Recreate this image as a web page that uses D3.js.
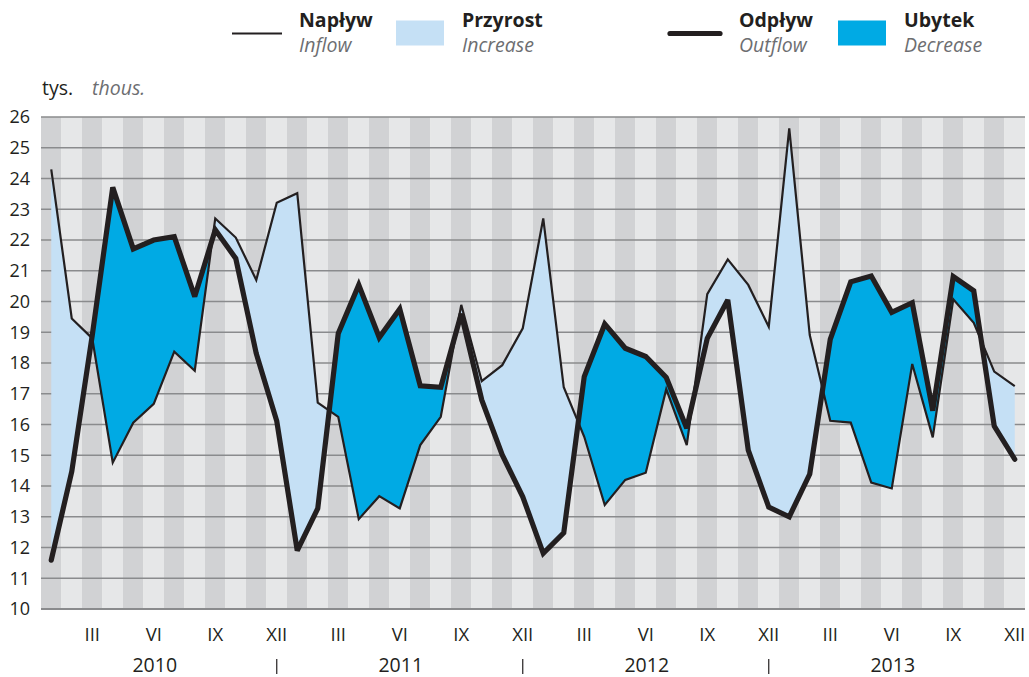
<!DOCTYPE html>
<html>
<head>
<meta charset="utf-8">
<script src="https://cdn.jsdelivr.net/npm/d3@7"></script>
<style>
  body { margin: 0; background: #fff; }
  svg text { font-family: "Open Sans", Lato, sans-serif; fill: #231f20; }
</style>
</head>
<body>
<div id="chart"></div>
<script>
// monthly data 2010-2013, thousands
var inflow = [24.30, 19.45, 18.8, 14.76, 16.06, 16.67, 18.37, 17.75, 22.70, 22.08, 20.70, 23.21,
  23.52, 16.71, 16.25, 12.92, 13.67, 13.27, 15.33, 16.25, 19.89, 17.41, 17.93, 19.13,
  22.70, 17.21, 15.60, 13.38, 14.20, 14.43, 17.15, 15.33, 20.24, 21.37, 20.54, 19.18,
  25.63, 18.91, 16.12, 16.06, 14.11, 13.92, 17.97, 15.58, 20.07, 19.31, 17.72, 17.25];

var outflow = [11.59, 14.47, 18.9, 23.71, 21.71, 22.0, 22.11, 20.16, 22.33, 21.40, 18.31, 16.11,
  11.90, 13.27, 18.96, 20.54, 18.83, 19.76, 17.26, 17.21, 19.6, 16.8, 15.01, 13.65,
  11.81, 12.48, 17.56, 19.27, 18.48, 18.21, 17.53, 15.88, 18.80, 20.05, 15.17, 13.31,
  13.0, 14.39, 18.77, 20.64, 20.83, 19.65, 19.96, 16.45, 20.81, 20.35, 15.95, 14.87];

var years = ["2010", "2011", "2012", "2013"];
var monthTicks = ["III", "VI", "IX", "XII"];
var yTicks = [10, 11, 12, 13, 14, 15, 16, 17, 18, 19, 20, 21, 22, 23, 24, 25, 26];

var svg = d3.select("#chart").append("svg")
  .attr("width", 1029)
  .attr("height", 677);

var x = d3.scaleLinear().domain([-0.5, 47.5]).range([41, 1025]);
var y = d3.scaleLinear().domain([10, 26]).range([609, 117]);

// month stripes
svg.append("g").selectAll("rect")
  .data(d3.range(48))
  .enter().append("rect")
  .attr("x", d => x(d - 0.5))
  .attr("width", d => x(d + 0.5) - x(d - 0.5))
  .attr("y", y(26))
  .attr("height", y(10) - y(26))
  .attr("fill", d => d % 2 === 0 ? "#d1d2d4" : "#e6e7e8");

// horizontal grid
svg.append("g").selectAll("line")
  .data(yTicks)
  .enter().append("line")
  .attr("x1", 41).attr("x2", 1025)
  .attr("y1", d => y(d)).attr("y2", d => y(d))
  .attr("stroke", "#8a8b8d")
  .attr("stroke-width", d => d === 10 ? 2.2 : 1.4);

// y axis labels
svg.append("g")
  .attr("transform", "translate(30,0)")
  .call(d3.axisLeft(y).tickValues(yTicks).tickSize(0).tickPadding(0))
  .call(g => g.select(".domain").remove())
  .selectAll("text")
  .style("font-size", "18px")
  .style("font-family", "'Open Sans', sans-serif")
  .attr("fill", "#231f20");

// build points with crossings so the two fills meet exactly
var pts = [];
for (var i = 0; i < 48; i++) {
  pts.push({ i: i, a: inflow[i], b: outflow[i] });
  if (i < 47) {
    var d0 = inflow[i] - outflow[i], d1 = inflow[i + 1] - outflow[i + 1];
    if (d0 * d1 < 0) {
      var t = d0 / (d0 - d1);
      var v = inflow[i] + t * (inflow[i + 1] - inflow[i]);
      pts.push({ i: i + t, a: v, b: v });
    }
  }
}

var increase = d3.area()
  .x(d => x(d.i))
  .y0(d => y(d.b))
  .y1(d => y(Math.max(d.a, d.b)));

var decrease = d3.area()
  .x(d => x(d.i))
  .y0(d => y(d.a))
  .y1(d => y(Math.max(d.a, d.b)));

svg.append("path").datum(pts).attr("d", increase).attr("fill", "#c5e0f5");
svg.append("path").datum(pts).attr("d", decrease).attr("fill", "#00aae4");

var line = d3.line().x((d, i) => x(i)).y(d => y(d));

svg.append("path").datum(inflow)
  .attr("d", line)
  .attr("fill", "none")
  .attr("stroke", "#231f20")
  .attr("stroke-width", 2.2)
  .attr("stroke-linejoin", "miter");

svg.append("path").datum(outflow)
  .attr("d", line)
  .attr("fill", "none")
  .attr("stroke", "#231f20")
  .attr("stroke-width", 5.2)
  .attr("stroke-linejoin", "miter")
  .attr("stroke-miterlimit", 3)
  .attr("stroke-linecap", "round");

// month labels
svg.append("g").selectAll("text")
  .data(d3.range(48).filter(d => d % 3 === 2))
  .enter().append("text")
  .attr("x", d => x(d))
  .attr("y", 641)
  .attr("text-anchor", "middle")
  .style("font-size", "18.5px")
  .text(d => monthTicks[(d - 2) / 3 % 4]);

// year labels and separators
svg.append("g").selectAll("text")
  .data(years)
  .enter().append("text")
  .attr("x", (d, k) => x(k * 12 + 5) + 1)
  .attr("y", 672)
  .attr("text-anchor", "middle")
  .style("font-size", "19.5px")
  .text(d => d);

svg.append("g").selectAll("line")
  .data([1, 2, 3])
  .enter().append("line")
  .attr("x1", k => x(k * 12 - 1)).attr("x2", k => x(k * 12 - 1))
  .attr("y1", 659).attr("y2", 674)
  .attr("stroke", "#231f20")
  .attr("stroke-width", 1.2);

// unit
svg.append("text").attr("x", 42).attr("y", 95).style("font-size", "19.5px").text("tys.");
svg.append("text").attr("x", 92).attr("y", 95).style("font-size", "19.5px")
  .style("font-style", "italic").style("fill", "#6d6e71").text("thous.");

// legend
var legend = [
  { pl: "Napływ", en: "Inflow", type: "line", w: 2.2, sx: 232, tx: 299 },
  { pl: "Przyrost", en: "Increase", type: "box", color: "#c5e0f5", sx: 396, tx: 462 },
  { pl: "Odpływ", en: "Outflow", type: "line", w: 5.2, sx: 670, tx: 739 },
  { pl: "Ubytek", en: "Decrease", type: "box", color: "#00aae4", sx: 838, tx: 904 }
];

var lg = svg.append("g");
legend.forEach(function (d) {
  if (d.type === "line") {
    lg.append("line")
      .attr("x1", d.sx).attr("x2", d.sx + 50)
      .attr("y1", 33.5).attr("y2", 33.5)
      .attr("stroke", "#231f20")
      .attr("stroke-width", d.w)
      .attr("stroke-linecap", d.w > 3 ? "round" : "butt");
  } else {
    lg.append("rect")
      .attr("x", d.sx).attr("y", 20.5)
      .attr("width", 48).attr("height", 25)
      .attr("fill", d.color);
  }
  lg.append("text").attr("x", d.tx).attr("y", 27)
    .style("font-size", "19.5px").style("font-weight", "bold").text(d.pl);
  lg.append("text").attr("x", d.tx).attr("y", 52)
    .style("font-size", "19.5px").style("font-style", "italic")
    .style("fill", "#6d6e71").text(d.en);
});
</script>
</body>
</html>
